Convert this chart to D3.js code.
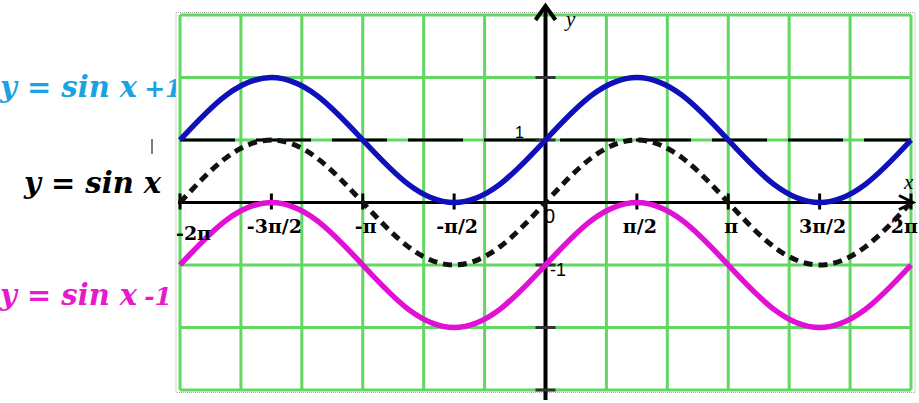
<!DOCTYPE html>
<html>
<head>
<meta charset="utf-8">
<script src="https://cdn.jsdelivr.net/npm/d3@7"></script>
<style>
  html, body { margin: 0; padding: 0; background: #ffffff; }
  svg { display: block; }
</style>
</head>
<body>
<div id="chart"></div>
<script>
// ---- data (x positions in multiples of π) ----
const xPi = [-2, -1.75, -1.5, -1.25, -1, -0.75, -0.5, -0.25, 0, 0.25, 0.5, 0.75, 1, 1.25, 1.5, 1.75, 2];
const sinX      = [0, 0.71, 1, 0.71, 0, -0.71, -1, -0.71, 0, 0.71, 1, 0.71, 0, -0.71, -1, -0.71, 0];
const sinXPlus1 = [1, 1.71, 2, 1.71, 1, 0.29, 0, 0.29, 1, 1.71, 2, 1.71, 1, 0.29, 0, 0.29, 1];
const sinXMinus1 = [-1, -0.29, 0, -0.29, -1, -1.71, -2, -1.71, -1, -0.29, 0, -0.29, -1, -1.71, -2, -1.71, -1];

const xTickPi = [-2, -1.5, -1, -0.5, 0.5, 1, 1.5, 2];
const xTickLabels = ["-2π", "-3π/2", "-π", "-π/2", "π/2", "π", "3π/2", "2π"];
const gridXPi = [-2, -5/3, -4/3, -1, -2/3, -1/3, 0, 1/3, 2/3, 1, 4/3, 5/3, 2];
const gridY = [-3, -2, -1, 0, 1, 2, 3];
const yTicks = [2, 1, -1, -2, -3];
const seriesLabels = ["y = sin x", "+1", "y = sin x", "y = sin x", "-1"];

const W = 919, H = 403;
const svg = d3.select("#chart").append("svg").attr("width", W).attr("height", H);

const x = d3.scaleLinear().domain([-2 * Math.PI, 2 * Math.PI]).range([180, 911]);
const y = d3.scaleLinear().domain([-3, 3]).range([390, 15]);
const x0 = x(0), y0 = y(0);

// ---- side labels (drawn first, clipped by plot background) ----
const lab = svg.append("g")
  .style("font-family", "'DejaVu Serif', serif")
  .style("font-weight", "bold")
  .style("font-style", "italic")
  .style("font-size", "29px");
const t1 = lab.append("text").attr("x", 0).attr("y", 97).attr("fill", "#1aa3e2");
t1.append("tspan").text(seriesLabels[0]);
t1.append("tspan").attr("dx", 7).style("font-size", "25px").text(seriesLabels[1]);
lab.append("text").attr("x", 24).attr("y", 193).attr("fill", "#000").text(seriesLabels[2]);
const t3 = lab.append("text").attr("x", 0).attr("y", 305).attr("fill", "#e619cc");
t3.append("tspan").text(seriesLabels[3]);
t3.append("tspan").attr("dx", 7).style("font-size", "25px").text(seriesLabels[4]);

svg.append("line").attr("x1", 152).attr("x2", 152).attr("y1", 139).attr("y2", 154)
  .attr("stroke", "#000").attr("stroke-width", 1);

// plot background
svg.append("rect").attr("x", 176).attr("y", 12).attr("width", 740).attr("height", 382)
  .attr("fill", "#fff");
svg.append("rect").attr("x", 176).attr("y", 12.5).attr("width", 739).attr("height", 380)
  .attr("fill", "none").attr("stroke", "#aaa").attr("stroke-width", 1).attr("stroke-dasharray", "1,1");

// ---- grid ----
const grid = svg.append("g").attr("stroke", "#62d862").attr("stroke-width", 3);
grid.selectAll("line.v").data(gridXPi).join("line")
  .attr("x1", d => x(d * Math.PI)).attr("x2", d => x(d * Math.PI))
  .attr("y1", y(3)).attr("y2", y(-3));
grid.selectAll("line.h").data(gridY).join("line")
  .attr("x1", x(-2 * Math.PI)).attr("x2", x(2 * Math.PI))
  .attr("y1", d => y(d)).attr("y2", d => y(d));

// ---- dashed line y = 1 ----
svg.append("line").attr("x1", x(-2 * Math.PI)).attr("x2", x(2 * Math.PI))
  .attr("y1", y(1)).attr("y2", y(1))
  .attr("stroke", "#000").attr("stroke-width", 3).attr("stroke-dasharray", "55,21");

// ---- axes ----
const ax = svg.append("g").attr("stroke", "#000").attr("fill", "none");
ax.append("line").attr("x1", 178).attr("x2", 913).attr("y1", y0).attr("y2", y0).attr("stroke-width", 3);
ax.append("polyline").attr("points", `899,${y0 - 7} 913,${y0} 899,${y0 + 7}`).attr("stroke-width", 3);
ax.append("line").attr("x1", x0).attr("x2", x0).attr("y1", 6).attr("y2", 400).attr("stroke-width", 4);
ax.append("polyline").attr("points", `${x0 - 10},20 ${x0},6 ${x0 + 10},20`).attr("stroke-width", 4);

ax.selectAll("line.xt").data(xTickPi).join("line")
  .attr("x1", d => x(d * Math.PI)).attr("x2", d => x(d * Math.PI))
  .attr("y1", y0 - 9).attr("y2", y0 + 7).attr("stroke-width", 3);
ax.selectAll("line.yt").data(yTicks).join("line")
  .attr("x1", x0 - 10).attr("x2", x0 + 10)
  .attr("y1", d => y(d)).attr("y2", d => y(d)).attr("stroke", "#333").attr("stroke-width", 3);

// ---- curves ----
const line = d3.line().x((d, i) => x(xPi[i] * Math.PI)).y(d => y(d)).curve(d3.curveNatural);
svg.append("path").datum(sinXMinus1).attr("d", line)
  .attr("fill", "none").attr("stroke", "#e010d4").attr("stroke-width", 5.5);
svg.append("path").datum(sinX).attr("d", line)
  .attr("fill", "none").attr("stroke", "#111").attr("stroke-width", 5).attr("stroke-dasharray", "9,6");
svg.append("path").datum(sinXPlus1).attr("d", line)
  .attr("fill", "none").attr("stroke", "#1010bb").attr("stroke-width", 5.5);

// ---- tick labels ----
const tl = svg.append("g")
  .style("font-family", "'DejaVu Serif', serif")
  .style("font-weight", "bold")
  .style("font-size", "19px")
  .attr("fill", "#000");
tl.selectAll("text").data(xTickPi).join("text")
  .attr("x", (d, i) => i === 0 ? 176 : (i === xTickPi.length - 1 ? 918 : x(d * Math.PI) + 3))
  .attr("y", (d, i) => i === 0 ? 240 : 233)
  .attr("text-anchor", (d, i) => i === 0 ? "start" : (i === xTickPi.length - 1 ? "end" : "middle"))
  .text((d, i) => xTickLabels[i]);

const sl = svg.append("g").style("font-family", "'Liberation Sans', Arial, sans-serif").attr("fill", "#000");
sl.append("text").attr("x", 524).attr("y", 138).attr("text-anchor", "end").style("font-size", "16px").text("1");
sl.append("text").attr("x", 544).attr("y", 223).style("font-size", "20px").text("0");
sl.append("text").attr("x", 550).attr("y", 276).style("font-size", "18px").text("-1");

const al = svg.append("g").style("font-family", "'Liberation Serif', serif").style("font-style", "italic")
  .style("font-size", "21px").attr("fill", "#000");
al.append("text").attr("x", 566).attr("y", 26).text("y");
al.append("text").attr("x", 904).attr("y", 189).text("x");
</script>
</body>
</html>
